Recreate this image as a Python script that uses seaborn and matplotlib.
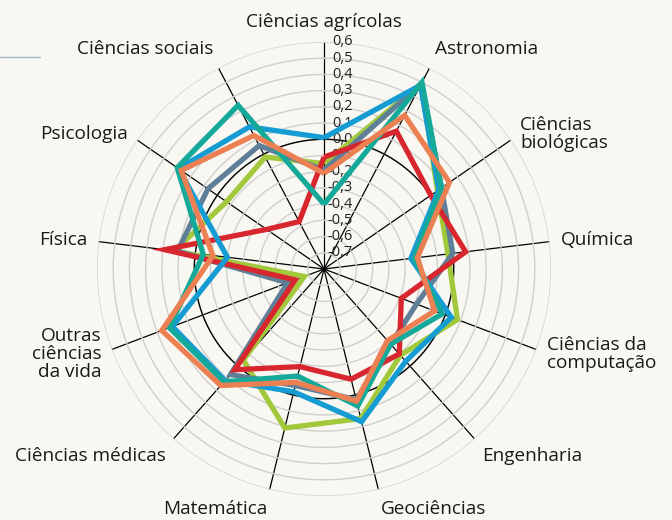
import numpy as np
import pandas as pd
import matplotlib
matplotlib.use("Agg")
import matplotlib.pyplot as plt
import matplotlib.transforms as mtransforms
from matplotlib.lines import Line2D
import seaborn as sns

categorias = ["Ciências agrícolas", "Astronomia", "Ciências\nbiológicas", "Química",
              "Ciências da\ncomputação", "Engenharia", "Geociências", "Matemática",
              "Ciências médicas", "Outras\nciências\nda vida", "Física", "Psicologia",
              "Ciências sociais"]

# valores (escala -0,8 no centro ate 0,6 na borda)
serie_verde = [-0.15, 0.49, 0.05, -0.03, 0.08, -0.09, 0.15, 0.21, -0.05, -0.67, 0.13, -0.07, -0.02]
serie_cinza = [-0.19, 0.49, 0.08, 0.00, -0.19, -0.18, 0.03, -0.06, 0.07, -0.56, 0.11, 0.07, 0.06]
serie_vermelha = [-0.11, 0.16, 0.00, 0.08, -0.29, -0.10, -0.10, -0.18, 0.03, -0.61, 0.19, -0.37, -0.47]
serie_azul = [0.01, 0.48, 0.06, -0.26, 0.04, -0.04, 0.17, -0.02, 0.12, 0.20, -0.20, 0.29, 0.19]
serie_turquesa = [-0.40, 0.50, 0.08, -0.24, -0.02, -0.18, 0.07, -0.12, 0.13, 0.22, -0.05, 0.30, 0.34]
serie_laranja = [-0.21, 0.27, 0.14, -0.22, -0.07, -0.21, 0.04, -0.08, 0.16, 0.27, -0.11, 0.27, 0.13]

rotulos_r = ["0,6", "0,5", "0,4", "0,3", "0,2", "0,1", "0,0", "-0,1", "-0,2", "-0,3",
             "-0,4", "-0,5", "-0,6", "-0,7"]
valores_r = [0.6, 0.5, 0.4, 0.3, 0.2, 0.1, 0.0, -0.1, -0.2, -0.3, -0.4, -0.5, -0.6, -0.7]

series = {"verde": serie_verde, "cinza": serie_cinza, "vermelha": serie_vermelha,
          "azul": serie_azul, "turquesa": serie_turquesa, "laranja": serie_laranja}
cores = {"verde": "#a2c83b", "cinza": "#5f7f99", "vermelha": "#d8262e",
         "azul": "#159cd3", "turquesa": "#15a99a", "laranja": "#ec8052"}

n = len(categorias)
angulos = np.arange(n) * 2 * np.pi / n

linhas = []
for nome, vals in series.items():
    for i in range(n + 1):
        linhas.append({"serie": nome, "theta": 2 * np.pi if i == n else angulos[i],
                       "valor": vals[i % n]})
df = pd.DataFrame(linhas)

sns.set_theme(style="white")
plt.rcParams["font.family"] = ["Open Sans", "DejaVu Sans"]
fundo = "#f9f7f1"

fig = plt.figure(figsize=(6.72, 5.2), dpi=100, facecolor=fundo)
ax = fig.add_axes([97 / 672, 24 / 520, 454 / 672, 454 / 520], projection="polar")
ax.set_facecolor(fundo)
ax.set_theta_zero_location("N")
ax.set_theta_direction(-1)
ax.set_ylim(-0.8, 0.6)

ax.set_yticks(valores_r)
ax.set_yticklabels([])
ax.yaxis.grid(True, color="#cfcfcf", lw=1.0)
ax.set_xticks(angulos)
ax.set_xticklabels([])
ax.xaxis.grid(True, color="black", lw=0.9)
ax.spines["polar"].set_visible(False)

circ = np.linspace(0, 2 * np.pi, 300)
ax.plot(circ, np.zeros_like(circ), color="black", lw=1.0, zorder=2)

sns.lineplot(data=df, x="theta", y="valor", hue="serie", hue_order=list(series.keys()),
             palette=cores, sort=False, estimator=None, lw=3.8, legend=False, ax=ax, zorder=4)
for ln in ax.lines:
    ln.set_solid_joinstyle("miter")
    ln.set_solid_capstyle("butt")
ax.set_xlabel("")
ax.set_ylabel("")

# rotulos radiais, alinhados a direita do eixo superior
desloc = mtransforms.offset_copy(ax.transData, fig=fig, x=29, y=0, units="dots")
for v, t in zip(valores_r, rotulos_r):
    ax.text(0, v, t, transform=desloc, ha="right", va="center", fontsize=10.5,
            color="#222222", zorder=3)

# rotulos das categorias
for ang, cat in zip(angulos, categorias):
    s, c = np.sin(ang), np.cos(ang)
    ha = "left" if s > 0.1 else ("right" if s < -0.1 else "center")
    va = "center" if abs(c) < 0.6 else ("bottom" if c > 0 else "top")
    ax.text(ang, 0.67, cat, ha=ha, va=va, multialignment=ha, fontsize=13.7,
            color="#1a1a1a", linespacing=1.0)

fig.add_artist(Line2D([0, 40 / 672], [1 - 57 / 520, 1 - 57 / 520], transform=fig.transFigure,
                      color="#9fb6c3", lw=1.0))

fig.savefig("out.png", dpi=100, facecolor=fundo)
